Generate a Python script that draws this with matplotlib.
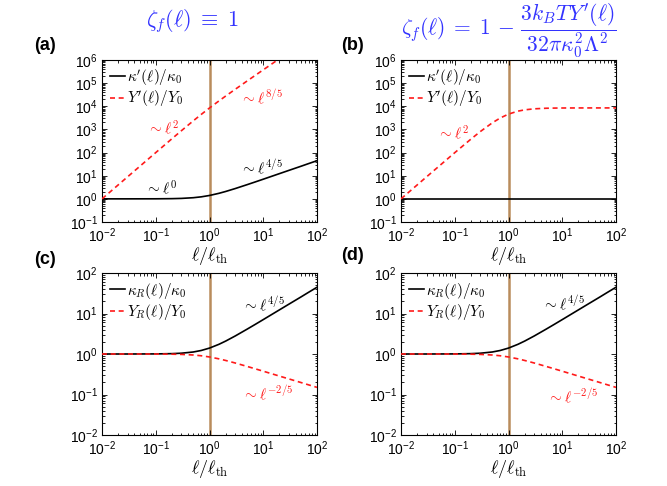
import matplotlib
matplotlib.use("Agg")
import matplotlib.pyplot as plt
from matplotlib.ticker import LogLocator, NullFormatter

plt.rcParams['font.family'] = ['Liberation Sans', 'DejaVu Sans']
plt.rcParams['mathtext.fontset'] = 'cm'

# ---- data ----
ell = [0.01, 0.03, 0.1, 0.2, 0.3, 0.5, 0.7, 1, 1.5, 2, 3, 5, 7, 10, 20, 30, 50, 70, 100]

kappa_a = [1.0, 1.0, 1.005, 1.021, 1.046, 1.121, 1.221, 1.40, 1.736, 2.085, 2.78,
           4.10, 5.33, 7.07, 12.3, 17.0, 25.5, 33.5, 44.5]
Y_a = [1, 9, 99.7, 396, 880, 2361, 4434, 8452, 17073, 27700, 53990,
       123457, 212213, 376081, 1.14e6, 2.0e6, 4.9e6, 8.5e6, 1.5e7]

kappa_b = [1.0] * 19
Y_b = [1, 9, 98.8, 382, 814, 1932, 3109, 4595, 6169, 7010, 7765,
       8221, 8355, 8432, 8480, 8490, 8497, 8499, 8500]

kappa_R = [1.0, 1.0, 1.005, 1.021, 1.046, 1.121, 1.221, 1.40, 1.736, 2.085, 2.78,
           4.10, 5.33, 7.07, 12.3, 17.0, 25.5, 33.5, 44.5]
Y_R = [1.0, 1.0, 0.9974, 0.9897, 0.9778, 0.9445, 0.905, 0.845, 0.759, 0.6925, 0.600,
       0.494, 0.433, 0.376, 0.285, 0.2425, 0.198, 0.1728, 0.150]

x_threshold = 1.0

fig = plt.figure(figsize=(6.67, 4.86), dpi=100)

W = 215 / 667
Htop = 162 / 486
Hbot = 162 / 486
pos = {
    'a': [102 / 667, 1 - 222 / 486, W, Htop],
    'b': [401 / 667, 1 - 222 / 486, W, Htop],
    'c': [102 / 667, 1 - 435 / 486, W, Hbot],
    'd': [401 / 667, 1 - 435 / 486, W, Hbot],
}

vcol = '#B98C5C'
blue = '#3333FF'
red = '#FF1A1A'
dash = (0, (3, 2.2))
ann_fs = 11
leg_kw = dict(loc='upper left', frameon=False, fontsize=11, handlelength=1.0,
              handletextpad=0.15, borderaxespad=0.25, labelspacing=0.1, borderpad=0.25)


def setup(ax, ylim, yticks):
    ax.set_xscale('log')
    ax.set_yscale('log')
    ax.set_xlim(1e-2, 1e2)
    ax.set_ylim(*ylim)
    ax.set_xticks([1e-2, 1e-1, 1e0, 1e1, 1e2])
    ax.set_yticks(yticks)
    ax.xaxis.set_minor_locator(LogLocator(base=10, subs=range(2, 10), numticks=20))
    ax.yaxis.set_minor_locator(LogLocator(base=10, subs=range(2, 10), numticks=20))
    ax.xaxis.set_minor_formatter(NullFormatter())
    ax.yaxis.set_minor_formatter(NullFormatter())
    ax.tick_params(which='both', direction='in', top=True, right=True,
                   labelsize=10, width=0.6)
    ax.tick_params(axis='x', which='major', pad=3)
    ax.tick_params(axis='y', which='major', pad=3)
    ax.tick_params(which='major', length=3.5)
    ax.tick_params(which='minor', length=1.8)
    for s in ax.spines.values():
        s.set_linewidth(0.8)
    ax.set_xlabel(r'$\ell/\ell_{\mathrm{th}}$', fontsize=13, labelpad=0)
    ax.axvline(x_threshold, color=vcol, lw=1.8, zorder=1)


# (a)
ax = fig.add_axes(pos['a'])
setup(ax, (1e-1, 1e6), [1e-1, 1e0, 1e1, 1e2, 1e3, 1e4, 1e5, 1e6])
ax.plot(ell, kappa_a, color='k', lw=1.2, label=r"$\kappa'(\ell)/\kappa_0$", zorder=3)
ax.plot(ell, Y_a, color=red, lw=1.2, ls=dash, label=r"$Y'(\ell)/Y_0$", zorder=3)
ax.legend(**leg_kw)
ax.text(0.069, 1150, r'$\sim \ell^{2}$', color=red, fontsize=ann_fs, ha='left', va='center')
ax.text(3.7, 2.5e4, r'$\sim \ell^{8/5}$', color=red, fontsize=ann_fs, ha='left', va='center')
ax.text(3.7, 24, r'$\sim \ell^{4/5}$', color='k', fontsize=ann_fs, ha='left', va='center')
ax.text(0.063, 2.9, r'$\sim \ell^{0}$', color='k', fontsize=ann_fs, ha='left', va='center')

# (b)
ax = fig.add_axes(pos['b'])
setup(ax, (1e-1, 1e6), [1e-1, 1e0, 1e1, 1e2, 1e3, 1e4, 1e5, 1e6])
ax.plot(ell, kappa_b, color='k', lw=1.2, label=r"$\kappa'(\ell)/\kappa_0$", zorder=3)
ax.plot(ell, Y_b, color=red, lw=1.2, ls=dash, label=r"$Y'(\ell)/Y_0$", zorder=3)
ax.legend(**leg_kw)
ax.text(0.047, 700, r'$\sim \ell^{2}$', color=red, fontsize=ann_fs, ha='left', va='center')

# (c)
ax = fig.add_axes(pos['c'])
setup(ax, (1e-2, 1e2), [1e-2, 1e-1, 1e0, 1e1, 1e2])
ax.plot(ell, kappa_R, color='k', lw=1.2, label=r"$\kappa_R(\ell)/\kappa_0$", zorder=3)
ax.plot(ell, Y_R, color=red, lw=1.2, ls=dash, label=r"$Y_R(\ell)/Y_0$", zorder=3)
ax.legend(**leg_kw)
ax.text(4.0, 17, r'$\sim \ell^{4/5}$', color='k', fontsize=ann_fs, ha='left', va='center')
ax.text(4.0, 0.11, r'$\sim \ell^{-2/5}$', color=red, fontsize=ann_fs, ha='left', va='center')

# (d)
ax = fig.add_axes(pos['d'])
setup(ax, (1e-2, 1e2), [1e-2, 1e-1, 1e0, 1e1, 1e2])
ax.plot(ell, kappa_R, color='k', lw=1.2, label=r"$\kappa_R(\ell)/\kappa_0$", zorder=3)
ax.plot(ell, Y_R, color=red, lw=1.2, ls=dash, label=r"$Y_R(\ell)/Y_0$", zorder=3)
ax.legend(**leg_kw)
ax.text(4.2, 18, r'$\sim \ell^{4/5}$', color='k', fontsize=ann_fs, ha='left', va='center')
ax.text(5.2, 0.091, r'$\sim \ell^{-2/5}$', color=red, fontsize=ann_fs, ha='left', va='center')

# titles
fig.text(192 / 667, 1 - 21 / 486, r'$\zeta_f(\ell)\; \equiv\; 1$', color=blue,
         fontsize=16, ha='center', va='center')
fig.text(509 / 667, 1 - 31 / 486,
         r'$\zeta_f(\ell)\; =\; 1\, -\, \dfrac{3k_BTY^{\prime}(\ell)}{32\pi\kappa_0^2\Lambda^2}$',
         color=blue, fontsize=15.5, ha='center', va='center')

# panel labels
for lab, x, y in [('(a)', 34, 45), ('(b)', 341, 45), ('(c)', 34, 260), ('(d)', 341, 255)]:
    fig.text(x / 667, 1 - y / 486, lab, fontsize=13, fontweight='bold',
             ha='left', va='center')

fig.savefig('out.png', dpi=100)
